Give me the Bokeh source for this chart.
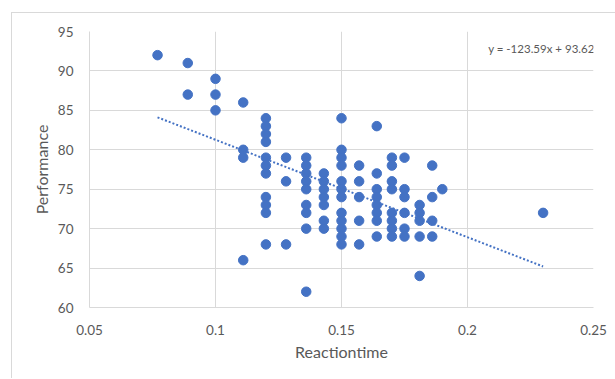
from bokeh.plotting import figure
from bokeh.models import ColumnDataSource, FixedTicker, Label, Range1d
from bokeh.embed import file_html
from bokeh.resources import INLINE

# ---- data ----
reaction_time = (
    [0.077]
    + [0.089] * 2
    + [0.100] * 3
    + [0.111] * 4
    + [0.120] * 11
    + [0.128] * 3
    + [0.136] * 9
    + [0.143] * 7
    + [0.150] * 12
    + [0.157] * 5
    + [0.164] * 8
    + [0.170] * 8
    + [0.175] * 6
    + [0.181] * 5
    + [0.186] * 4
    + [0.190]
    + [0.230]
)
performance = (
    [92]
    + [91, 87]
    + [89, 87, 85]
    + [86, 80, 79, 66]
    + [84, 83, 82, 81, 79, 78, 77, 74, 73, 72, 68]
    + [79, 76, 68]
    + [79, 78, 77, 76, 75, 73, 72, 70, 62]
    + [77, 76, 75, 74, 73, 71, 70]
    + [84, 80, 79, 78, 76, 75, 74, 72, 71, 70, 69, 68]
    + [78, 76, 74, 71, 68]
    + [83, 77, 75, 74, 73, 72, 71, 69]
    + [79, 78, 76, 75, 72, 71, 70, 69]
    + [79, 75, 74, 72, 70, 69]
    + [73, 72, 71, 69, 64]
    + [78, 74, 71, 69]
    + [75]
    + [72]
)
trend_slope = -123.59
trend_intercept = 93.629
equation_text = "y = -123.59x + 93.629"

x_ticks = [0.05, 0.1, 0.15, 0.2, 0.25]
x_tick_labels = ["0.05", "0.1", "0.15", "0.2", "0.25"]
y_ticks = [60, 65, 70, 75, 80, 85, 90, 95]

FONT = "Lato"
GRID = "#d9d9d9"
TEXT = "#595959"
BLUE = "#4472C4"

p = figure(
    width=615, height=378,
    output_backend="svg", toolbar_location=None,
    x_range=Range1d(0.05, 0.25), y_range=Range1d(60, 95),
    min_border_left=89, min_border_right=22,
    min_border_top=31, min_border_bottom=71,
)
# outer chart-area frame (left and top edges visible, as in the reference)
p.styles = {
    "background": (
        "linear-gradient(#d9d9d9,#d9d9d9) 11px 12px / 1px 100% no-repeat, "
        "linear-gradient(#d9d9d9,#d9d9d9) 11px 12px / 100% 1px no-repeat, white"
    ),
}
p.outline_line_color = None
p.background_fill_color = "white"
p.border_fill_color = None

src = ColumnDataSource(dict(x=reaction_time, y=performance))
p.scatter("x", "y", source=src, size=9.5, fill_color=BLUE, line_color=BLUE)

tx = [min(reaction_time), max(reaction_time)]
ty = [trend_slope * v + trend_intercept for v in tx]
p.line(tx, ty, line_color=BLUE, line_width=2, line_dash="2 2")

p.xaxis.ticker = FixedTicker(ticks=x_ticks)
p.xaxis.major_label_overrides = {t: l for t, l in zip(x_ticks, x_tick_labels)}
p.yaxis.ticker = FixedTicker(ticks=y_ticks)
p.xgrid.ticker = FixedTicker(ticks=x_ticks)
p.ygrid.ticker = FixedTicker(ticks=y_ticks)
p.grid.grid_line_color = GRID

for ax in (p.xaxis, p.yaxis):
    ax.axis_line_color = GRID
    ax.major_tick_line_color = None
    ax.minor_tick_line_color = None
    ax.major_label_text_color = TEXT
    ax.major_label_text_font = FONT
    ax.major_label_text_font_size = "13.5px"
    ax.axis_label_text_color = TEXT
    ax.axis_label_text_font = FONT
    ax.axis_label_text_font_size = "16px"
    ax.axis_label_text_font_style = "normal"

p.xaxis.major_label_standoff = 11
p.yaxis.major_label_standoff = 10
p.xaxis.axis_label = "Reactiontime"
p.yaxis.axis_label = "Performance"
p.xaxis.axis_label_standoff = 4
p.yaxis.axis_label_standoff = 4

p.add_layout(Label(
    x=0.2531, y=92.8, text=equation_text, level="overlay",
    text_font=FONT, text_font_size="11.5px", text_color=TEXT,
    text_baseline="middle", text_align="right",
))

open("out.html", "w").write(file_html(p, INLINE))
